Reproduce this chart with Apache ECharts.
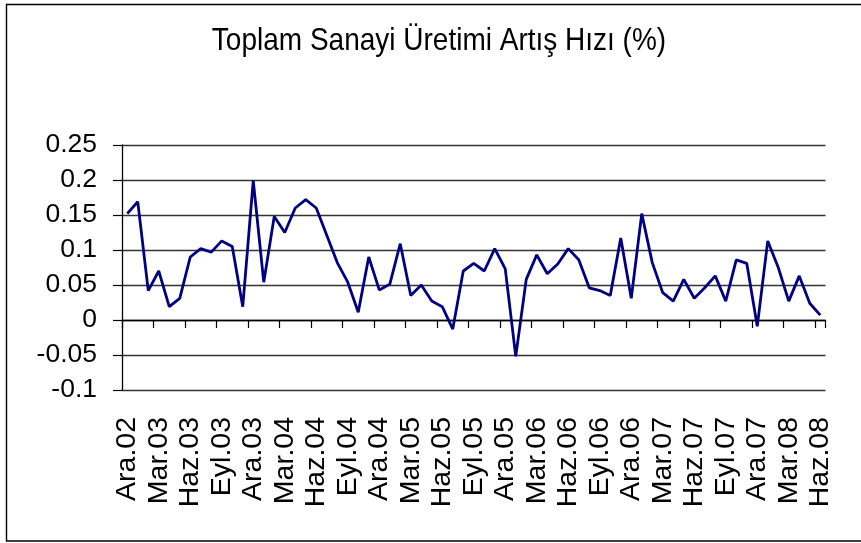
<!DOCTYPE html>
<html>
<head>
<meta charset="utf-8">
<script src="https://cdn.jsdelivr.net/npm/echarts@6/dist/echarts.min.js"></script>
<style>html,body{margin:0;padding:0;background:#fff;}#c{width:861px;height:543px;}</style>
</head>
<body>
<div id="c"></div>
<script>
const titleText = 'Toplam Sanayi Üretimi Artış Hızı (%)';
const categories = [
  'Ara.02',
  'Oca.03','Şub.03','Mar.03','Nis.03','May.03','Haz.03','Tem.03','Ağu.03','Eyl.03','Eki.03','Kas.03','Ara.03',
  'Oca.04','Şub.04','Mar.04','Nis.04','May.04','Haz.04','Tem.04','Ağu.04','Eyl.04','Eki.04','Kas.04','Ara.04',
  'Oca.05','Şub.05','Mar.05','Nis.05','May.05','Haz.05','Tem.05','Ağu.05','Eyl.05','Eki.05','Kas.05','Ara.05',
  'Oca.06','Şub.06','Mar.06','Nis.06','May.06','Haz.06','Tem.06','Ağu.06','Eyl.06','Eki.06','Kas.06','Ara.06',
  'Oca.07','Şub.07','Mar.07','Nis.07','May.07','Haz.07','Tem.07','Ağu.07','Eyl.07','Eki.07','Kas.07','Ara.07',
  'Oca.08','Şub.08','Mar.08','Nis.08','May.08','Haz.08'
];
const values = [
  0.152, 0.169, 0.042, 0.070, 0.019, 0.031, 0.090, 0.102, 0.097, 0.113, 0.105, 0.019,
  0.199, 0.054, 0.148, 0.125, 0.160, 0.172, 0.160, 0.121, 0.082, 0.054, 0.011, 0.090,
  0.043, 0.051, 0.109, 0.035, 0.050, 0.027, 0.019, -0.013, 0.070, 0.081, 0.070, 0.102,
  0.073, -0.052, 0.058, 0.093, 0.066, 0.080, 0.102, 0.086, 0.046, 0.042, 0.035, 0.117,
  0.031, 0.152, 0.082, 0.039, 0.027, 0.058, 0.031, 0.046, 0.063, 0.027, 0.086, 0.081,
  -0.009, 0.113, 0.075, 0.027, 0.063, 0.024, 0.007
];
const yTickLabels = ['-0.1','-0.05','0','0.05','0.1','0.15','0.2','0.25'];

const FONT = 'Liberation Sans, Arial, sans-serif';
const chart = echarts.init(document.getElementById('c'), null, {renderer: 'canvas'});
chart.setOption({
  animation: false,
  backgroundColor: '#fff',
  grid: {left: 122, right: 35.5, top: 145, bottom: 153, containLabel: false},
  graphic: [
    {type: 'rect', shape: {x: 6.5, y: 4.5, width: 860, height: 536.5},
     style: {fill: 'none', stroke: '#000', lineWidth: 1.4}, silent: true},
    {type: 'text', x: 439, y: 42, scaleY: 1.1, originX: 0, originY: 0,
     style: {text: titleText, font: '28px ' + FONT, fill: '#000', textAlign: 'center', textVerticalAlign: 'middle'}}
  ],
  xAxis: [
    {
      type: 'category', data: categories, boundaryGap: true,
      axisLine: {show: true, onZero: true, lineStyle: {color: '#000', width: 1.3}},
      axisTick: {show: true, interval: 2, length: 8, inside: false, lineStyle: {color: '#000', width: 1.2}},
      axisLabel: {show: false},
      splitLine: {show: false}
    },
    {
      type: 'category', data: categories, boundaryGap: true, position: 'bottom',
      axisLine: {show: false, onZero: false},
      axisTick: {show: false},
      axisLabel: {
        show: true, interval: 2, rotate: 90, margin: 27,
        fontFamily: FONT, fontSize: 28.5, color: '#000'
      },
      splitLine: {show: false}
    }
  ],
  yAxis: {
    type: 'value', min: -0.1, max: 0.25, interval: 0.05,
    axisLine: {show: true, lineStyle: {color: '#000', width: 1.3}},
    axisTick: {show: true, length: 9, lineStyle: {color: '#000', width: 1.2}},
    axisLabel: {
      margin: 25, fontFamily: FONT, fontSize: 26.5, color: '#000',
      formatter: function (v) {
        const s = String(parseFloat(v.toFixed(2)));
        return yTickLabels.indexOf(s) >= 0 ? s : '';
      }
    },
    splitLine: {show: true, lineStyle: {color: '#333', width: 1.3}}
  },
  series: [{
    type: 'line', data: values, xAxisIndex: 0,
    showSymbol: false, symbol: 'none',
    lineStyle: {color: '#000080', width: 2.8},
    itemStyle: {color: '#000080'}
  }]
});
</script>
</body>
</html>
